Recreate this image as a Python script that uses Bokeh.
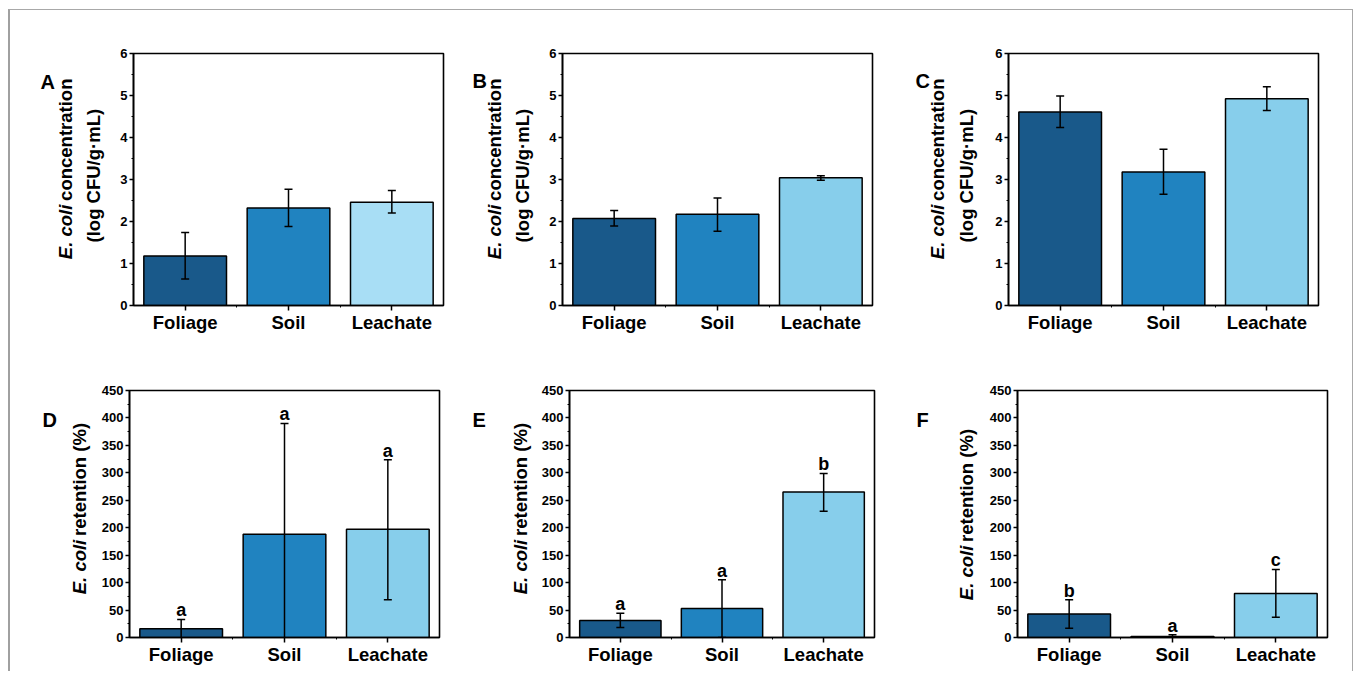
import math
from bokeh.plotting import figure
from bokeh.models import Range1d, FixedTicker, Whisker, ColumnDataSource, LabelSet, TeeHead
from bokeh.layouts import row, column
from bokeh.core.properties import value
from bokeh.embed import file_html
from bokeh.resources import INLINE

# ---------------- data ----------------
categories = ["Foliage", "Soil", "Leachate"]

# log CFU/g·mL (panels A-C)
A_mean = [1.18, 2.32, 2.46]
A_low = [0.63, 1.88, 2.20]
A_high = [1.74, 2.77, 2.74]

B_mean = [2.07, 2.17, 3.04]
B_low = [1.89, 1.77, 2.98]
B_high = [2.26, 2.56, 3.09]

C_mean = [4.61, 3.18, 4.92]
C_low = [4.24, 2.65, 4.64]
C_high = [4.99, 3.72, 5.21]

# retention % (panels D-F)
D_mean = [16, 188, 197]
D_low = [-1, -14, 69]
D_high = [33, 390, 324]
D_letters = ["a", "a", "a"]

E_mean = [31, 53, 265]
E_low = [18, 0, 230]
E_high = [44, 105, 299]
E_letters = ["a", "a", "b"]

F_mean = [43, 2, 80]
F_low = [17, 0, 37]
F_high = [69, 5, 124]
F_letters = ["b", "a", "c"]

conc_ticks = [0, 1, 2, 3, 4, 5, 6]
ret_ticks = [0, 50, 100, 150, 200, 250, 300, 350, 400, 450]

conc_title = ("E. coli", "concentration", "(log CFU/g\u00b7mL)")
ret_title = ("E. coli", "retention (%)", None)

# ---------------- styles ----------------
FONT = "Liberation Sans"
DARK = "#19598a"
MID = "#2083c0"
LIGHT_A = "#a8def5"
LIGHT = "#87ceeb"
TITLE_SIZE = "18.5px"

ROW1_TOP, H1 = 10, 330
ROW2_TOP, H2 = 340, 331


def make_plot(mean, low, high, colors, yticks, letters, width, height, bl, br, bt, bb):
    n = len(categories)
    xs = [i + 1 for i in range(n)]
    step = yticks[1] - yticks[0]
    minor = [t + step / 2 for t in yticks[:-1]]
    p = figure(width=width, height=height, output_backend="svg", toolbar_location=None,
               x_range=Range1d(0.5, n + 0.5), y_range=Range1d(yticks[0], yticks[-1]),
               min_border_left=bl, min_border_right=br, min_border_top=bt, min_border_bottom=bb)
    p.background_fill_color = "white"
    p.border_fill_color = "white"
    p.outline_line_color = "black"
    p.outline_line_width = 1.6
    p.xgrid.visible = False
    p.ygrid.visible = False

    src = ColumnDataSource(dict(x=xs, top=mean, lo=low, hi=high, color=colors,
                                letter=letters if letters else [""] * n))
    p.vbar(x="x", top="top", width=0.8, source=src, fill_color="color",
           line_color="black", line_width=1.5)
    w = Whisker(source=src, base="x", upper="hi", lower="lo", line_width=1.5, line_color="black",
                upper_head=TeeHead(size=8, line_width=1.5, line_color="black"),
                lower_head=TeeHead(size=8, line_width=1.5, line_color="black"),
                level="overlay")
    p.add_layout(w)
    if letters:
        ls = LabelSet(x="x", y="hi", text="letter", source=src, text_align="center",
                      text_baseline="alphabetic", y_offset=3,
                      text_font=value(FONT), text_font_style="bold", text_font_size="18px",
                      text_color="black")
        p.add_layout(ls)

    p.xaxis.ticker = FixedTicker(ticks=xs, minor_ticks=[x + 0.5 for x in xs[:-1]])
    p.xaxis.major_label_overrides = {x: c for x, c in zip(xs, categories)}
    p.yaxis.ticker = FixedTicker(ticks=yticks, minor_ticks=minor)
    for ax in (p.xaxis[0], p.yaxis[0]):
        ax.axis_line_width = 1.6
        ax.axis_line_color = "black"
        ax.major_tick_line_width = 1.5
        ax.major_tick_line_color = "black"
        ax.minor_tick_line_color = "black"
        ax.minor_tick_line_width = 1
        ax.major_tick_in = 0
        ax.minor_tick_in = 0
        ax.major_label_text_font = FONT
        ax.major_label_text_font_style = "bold"
        ax.major_label_text_color = "black"
    p.xaxis.major_tick_out = 5
    p.xaxis.minor_tick_out = 2
    p.xaxis.major_label_text_font_size = "18.5px"
    p.xaxis.major_label_standoff = 1
    p.yaxis.major_tick_out = 4
    p.yaxis.minor_tick_out = 2
    p.yaxis.major_label_text_font_size = "13px"
    p.yaxis.major_label_standoff = 2
    return p


def make_title(left, width, top, height, tag, tag_xy, title, l1x, l1split, l2xy):
    """Narrow figure holding the panel tag and the rotated y-axis title.
    Positions are given in page pixels and converted to this figure's pixel space."""
    p = figure(width=width, height=height, output_backend="svg", toolbar_location=None,
               x_range=Range1d(0, width), y_range=Range1d(0, height),
               x_axis_location=None, y_axis_location=None, min_border=0)
    p.outline_line_color = None
    p.grid.visible = False
    p.background_fill_color = "white"
    p.border_fill_color = "white"

    def lx(X):
        return X - left

    def ly(Y):
        return top + height - Y

    p.text(x=[lx(tag_xy[0])], y=[ly(tag_xy[1])], text=[tag], text_font=value(FONT),
           text_font_size="20px", text_font_style="bold", text_color="black",
           text_align="left", text_baseline="alphabetic")
    it, rest, line2 = title
    rot = math.pi / 2
    p.text(x=[lx(l1x)], y=[ly(l1split + 2)], text=[it], angle=rot, text_font=value(FONT),
           text_font_size=TITLE_SIZE, text_font_style="bold italic", text_color="black",
           text_align="right", text_baseline="middle")
    p.text(x=[lx(l1x)], y=[ly(l1split - 3)], text=[rest], angle=rot, text_font=value(FONT),
           text_font_size=TITLE_SIZE, text_font_style="bold", text_color="black",
           text_align="left", text_baseline="middle")
    if line2:
        p.text(x=[lx(l2xy[0])], y=[ly(l2xy[1])], text=[line2], angle=rot, text_font=value(FONT),
               text_font_size=TITLE_SIZE, text_font_style="bold", text_color="black",
               text_align="center", text_baseline="middle")
    return p


# ---- row 1 ----
tA = make_title(10, 100, ROW1_TOP, H1, "A", (40, 47), conc_title, 65, 206, (93, 170))
pA = make_plot(A_mean, A_low, A_high, [DARK, MID, LIGHT_A], conc_ticks, None,
               360, H1, 23, 27, 43, 35)
tB = make_title(470, 68, ROW1_TOP, H1, "B", (472, 46), conc_title, 494, 206, (522, 170))
pB = make_plot(B_mean, B_low, B_high, [DARK, MID, LIGHT], conc_ticks, None,
               372, H1, 24, 38, 43, 35)
tC = make_title(910, 75, ROW1_TOP, H1, "C", (915, 46), conc_title, 937, 206, (966, 170))
pC = make_plot(C_mean, C_low, C_high, [DARK, MID, LIGHT], conc_ticks, None,
               367, H1, 23, 34, 43, 35)

# ---- row 2 ----
tD = make_title(10, 88, ROW2_TOP, H2, "D", (42, 380), ret_title, 79, 538, None)
pD = make_plot(D_mean, D_low, D_high, [DARK, MID, LIGHT], ret_ticks, D_letters,
               372, H2, 31, 31, 50, 30)
tE = make_title(470, 65, ROW2_TOP, H2, "E", (472, 380), ret_title, 520, 538, None)
pE = make_plot(E_mean, E_low, E_high, [DARK, MID, LIGHT], ret_ticks, E_letters,
               375, H2, 34, 36, 49, 34)
tF = make_title(910, 72, ROW2_TOP, H2, "F", (916, 380), ret_title, 966, 546, None)
pF = make_plot(F_mean, F_low, F_high, [DARK, MID, LIGHT], ret_ticks, F_letters,
               370, H2, 35, 25, 50, 30)

layout = column(row(tA, pA, tB, pB, tC, pC), row(tD, pD, tE, pE, tF, pF),
                styles={"border-top": "1px solid #a8a8a8", "border-left": "2px solid #a0a0a0",
                        "border-right": "1px solid #a8a8a8",
                        "margin-left": "8px", "margin-top": "9px"})

open("out.html", "w").write(file_html(layout, INLINE))
